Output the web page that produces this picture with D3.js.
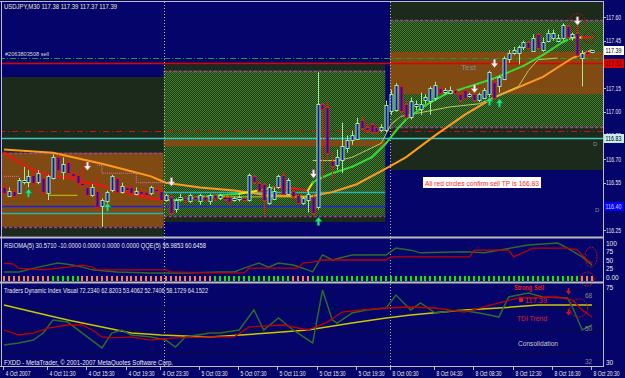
<!DOCTYPE html>
<html>
<head>
<meta charset="utf-8">
<script src="https://cdn.jsdelivr.net/npm/d3@7"></script>
<style>
body { margin: 0; background: #04046a; }
svg { display: block; font-family: 'Liberation Sans', Arial, sans-serif; }
</style>
</head>
<body>
<svg id="chart" width="625" height="378"></svg>
<script>
// USDJPY M30, 4 Oct 2007 - 8 Oct 2007
var opens = [116.52,116.47,116.50,116.49,116.56,116.55,116.60,116.55,116.58,116.48,116.58,116.71,116.62,116.68,116.61,116.60,116.55,116.52,116.47,116.50,
  116.40,116.43,116.50,116.58,116.49,116.52,116.52,116.48,116.50,116.49,116.48,116.51,116.50,116.44,116.46,116.38,116.45,116.45,116.43,116.46,
  116.43,116.46,116.43,116.47,116.45,116.46,116.46,116.44,116.45,116.45,116.44,116.59,116.55,116.54,116.42,116.45,116.52,116.60,116.48,116.50,
  116.47,116.42,116.44,116.46,116.40,117.05,117.03,116.69,116.66,116.69,116.77,116.82,116.83,116.95,116.90,116.92,116.90,116.88,116.88,117.00,
  117.01,117.16,117.05,116.97,117.04,117.02,117.07,117.07,117.09,117.15,117.13,117.12,117.14,117.11,117.14,117.10,117.11,117.07,117.09,117.11,
  117.19,117.16,117.21,117.33,117.37,117.37,117.41,117.44,117.39,117.49,117.39,117.45,117.47,117.45,117.47,117.54,117.47,117.50,117.34,117.38,117.38];
var highs = [116.54,116.52,116.52,116.58,116.65,116.63,116.62,116.63,116.59,116.60,116.73,116.73,116.71,116.69,116.62,116.61,116.68,116.54,116.54,116.60,
  116.45,116.50,116.60,116.59,116.55,116.54,116.53,116.52,116.51,116.50,116.53,116.52,116.52,116.48,116.48,116.45,116.48,116.47,116.48,116.47,
  116.48,116.47,116.48,116.48,116.48,116.47,116.47,116.46,116.47,116.46,116.61,116.60,116.56,116.55,116.54,116.52,116.60,116.62,116.58,116.52,
  116.48,116.46,116.50,116.47,117.25,117.06,117.07,116.74,116.76,116.93,116.85,116.88,116.96,116.97,116.93,116.93,116.91,116.92,117.07,117.14,
  117.18,117.17,117.07,117.09,117.07,117.12,117.11,117.16,117.19,117.16,117.15,117.16,117.15,117.12,117.15,117.12,117.12,117.12,117.15,117.26,
  117.21,117.23,117.35,117.39,117.41,117.42,117.45,117.45,117.49,117.50,117.47,117.52,117.52,117.49,117.56,117.55,117.50,117.56,117.39,117.39,117.39];
var lows = [116.47,116.46,116.45,116.48,116.54,116.52,116.53,116.54,116.47,116.44,116.57,116.57,116.57,116.59,116.57,116.52,116.52,116.46,116.46,116.36,
  116.27,116.41,116.49,116.48,116.48,116.48,116.47,116.47,116.47,116.46,116.47,116.48,116.43,116.43,116.34,116.36,116.43,116.42,116.42,116.43,
  116.41,116.43,116.41,116.43,116.44,116.43,116.41,116.43,116.43,116.43,116.43,116.54,116.49,116.35,116.41,116.44,116.51,116.47,116.47,116.44,
  116.41,116.41,116.36,116.34,116.38,116.57,116.69,116.57,116.63,116.61,116.74,116.79,116.82,116.88,116.86,116.86,116.86,116.87,116.87,116.98,
  117.00,116.98,116.95,116.95,117.01,116.98,117.05,116.98,117.07,117.11,117.11,117.11,117.11,117.06,117.08,117.09,117.06,117.06,117.08,117.09,
  117.08,117.12,117.20,117.31,117.36,117.30,117.39,117.39,117.38,117.39,117.38,117.44,117.45,117.44,117.45,117.45,117.45,117.35,117.16,117.35,117.37];
var closes = [116.48,116.50,116.47,116.57,116.57,116.59,116.55,116.61,116.49,116.59,116.71,116.63,116.67,116.61,116.59,116.55,116.54,116.47,116.52,116.40,
  116.44,116.49,116.59,116.49,116.53,116.50,116.48,116.50,116.48,116.47,116.52,116.50,116.44,116.47,116.36,116.44,116.46,116.44,116.47,116.45,
  116.47,116.44,116.47,116.45,116.47,116.45,116.43,116.45,116.46,116.44,116.60,116.55,116.50,116.44,116.52,116.50,116.59,116.48,116.57,116.47,
  116.42,116.45,116.48,116.36,117.05,117.02,116.74,116.66,116.71,116.78,116.82,116.85,116.93,116.90,116.88,116.87,116.87,116.90,117.04,117.11,
  117.17,117.00,116.97,117.07,117.05,117.05,117.09,117.15,117.17,117.12,117.14,117.14,117.12,117.07,117.09,117.11,117.07,117.11,117.14,117.25,
  117.09,117.22,117.34,117.37,117.39,117.41,117.44,117.40,117.47,117.40,117.44,117.50,117.50,117.47,117.55,117.47,117.49,117.36,117.37,117.37,117.39];

// time axis
var timeIdx = [0, 9, 17, 25, 32, 40, 48, 56, 64, 72, 79, 88, 96, 104, 112, 120];
var timeLabels = ['4 Oct 2007', '4 Oct 11:30', '4 Oct 15:30', '4 Oct 19:30', '4 Oct 23:30', '5 Oct 03:30', '5 Oct 07:30',
  '5 Oct 11:30', '5 Oct 15:30', '5 Oct 19:30', '8 Oct 00:30', '8 Oct 04:30', '8 Oct 08:30', '8 Oct 12:30', '8 Oct 16:30', '8 Oct 20:30'];
var daySeparators = [32.6, 78.8];
var priceTicks = [117.60, 117.45, 117.15, 117.00, 116.85, 116.70, 116.55, 116.25];

// moving averages [bar, price]
var slowMa = [[0,116.76],[10,116.74],[20,116.67],[25,116.63],[30,116.59],[33,116.55],[40,116.52],[47,116.50],[54,116.47],[62,116.46],
  [67,116.49],[72,116.54],[78,116.64],[82,116.71],[88,116.85],[94,116.98],[100,117.09],[110,117.22],[116,117.34],[120,117.39]];
var fastMa = [[0,116.74],[3,116.68],[6,116.63],[10,116.59],[14,116.58],[17,116.55],[20,116.53],[23,116.50],[27,116.47],[30,116.45],
  [33,116.44],[36,116.44],[40,116.46],[44,116.47],[48,116.48],[52,116.50],[55,116.52],[58,116.52],[62,116.50],[63,116.55],[64,116.57],
  [67,116.61],[71,116.65],[75,116.71],[78,116.80],[80,116.88],[82,116.95],[86,117.04],[90,117.11],[94,117.15],[100,117.21],[106,117.29],
  [110,117.36],[114,117.44],[116,117.47],[118,117.47],[120,117.47]];
var fastTrend = ['dn','dn','dn','dn','dn','dn','dn','dn','dn','dn','dn','up','up','up','up','flat','up','dn','dn','flat','up',
  'up','up','up','up','up','up','up','up','up','up','up','up','up','up','flat','dn'];
var trailStop = [[63,116.69],[68,116.69],[71,116.71],[73,116.74],[77,116.80],[79,116.92],[81,116.97],[91,117.03],[97,117.05],
  [105,117.16],[107,117.26],[109,117.33],[113,117.34]];
var flatStops = [[[9,116.47],[15,116.47]], [[40,116.46],[63,116.46]]];
var pinkStop = [[[0,116.59],[3,116.59]], [[19,116.66],[20,116.66],[20,116.61],[27,116.61],[27,116.55],[33,116.55]]];

// zones and levels drawn on the chart
var zones = [
  {from: -1, to: 32.6, top: 117.22, bottom: 116.19, kind: 'dark'},
  {from: -1, to: 32.6, top: 116.74, bottom: 116.27, kind: 'brown'},
  {from: 32.6, to: 77.8, top: 117.30, bottom: 116.30, kind: 'dark'},
  {from: 32.6, to: 77.8, top: 117.26, bottom: 116.34, kind: 'dots'},
  {from: 32.6, to: 77.8, top: 116.82, bottom: 116.78, kind: 'brown'},
  {from: 78.8, to: 125, top: 117.72, bottom: 116.63, kind: 'dark'},
  {from: 78.8, to: 125, top: 117.58, bottom: 116.90, kind: 'dots'},
  {from: 78.8, to: 125, top: 117.38, bottom: 117.11, kind: 'brown'}
];
var zoneEdges = [[-1,32.6,116.74],[-1,32.6,116.27],[32.6,77.8,117.26],[32.6,77.8,116.34],[78.8,125,117.58],[78.8,125,116.90]];
var levels = [
  {price: 117.34, from: -1, to: 125, kind: 'order'},
  {price: 117.31, from: -1, to: 125, kind: 'stop'},
  {price: 116.88, from: -1, to: 125, kind: 'redDash'},
  {price: 116.83, from: -1, to: 125, kind: 'tp'},
  {price: 116.40, from: -1, to: 77.8, kind: 'blue'},
  {price: 116.36, from: -1, to: 32.6, kind: 'teal'},
  {price: 116.49, from: 32.6, to: 77.8, kind: 'teal'}
];
var sellArrows = [[17,116.65],[34,116.55],[63,116.60],[96,117.14],[100,117.30],[117,117.57]];
var buyArrows = [[5,116.49],[21,116.40],[64,116.31],[99,117.07],[101,117.06]];

// RSIOMA / QQE panel
var rsiRed = [[0,41],[2,38],[3,26],[8,21],[13,29],[16,35],[18,29],[19,21],[33,21],[34,15],[42,12],[49,12],[50,26],[60,26],[61,41],
  [63,44],[65,50],[78,50],[79,59],[95,59],[96,79],[103,79],[104,59],[108,85],[115,85],[117,79],[119,50],[120,41]];
var rsiGreen = [[0,15],[3,15],[7,29],[11,41],[14,35],[16,29],[18,21],[23,15],[30,12],[37,12],[44,15],[47,15],[49,26],[52,41],[54,29],
  [56,41],[59,35],[61,26],[63,15],[65,65],[67,50],[71,65],[75,65],[78,65],[80,85],[83,79],[85,71],[94,74],[98,71],[101,79],[107,94],
  [113,100],[115,85],[118,59],[120,35]];
var qqeRuns = [[0,9,'dn'],[10,15,'up'],[16,42,'dn'],[43,58,'up'],[59,62,'dn'],[63,117,'up'],[118,120,'dn']];
var rsiTicks = [100, 75, 50, 25, 0];

// Traders Dynamic Index panel
var tdiYellow = [[0,70.5],[6,64.7],[13,58.2],[20,52.5],[26,47.5],[32,45.9],[42,44.3],[54,47.5],[62,50],[71,55.7],[78,59.8],[83,62.3],
  [94,66.4],[101,68.0],[109,70.5],[116,70.5],[120,70.5]];
var tdiRed = [[0,50],[3,45.9],[6,47.5],[9,51.6],[13,54.1],[16,54.1],[18,50],[20,44.3],[22,43.5],[26,44.3],[30,41.8],[35,43.5],[42,44.3],
  [47,44.3],[50,52.5],[57,54.1],[62,50],[66,56.5],[69,64.7],[73,66.4],[78,68.0],[83,68.8],[88,68.0],[94,64.7],[101,72.1],[105,76.2],
  [113,77.0],[116,74.5],[118,66.4],[120,60.6]];
var tdiGreen = [[0,37.7],[3,39.4],[6,41.8],[8,47.5],[10,58.2],[13,56.5],[17,44.3],[20,35.3],[22,47.5],[24,50],[26,45.9],[30,44.3],
  [33,41.8],[35,36.1],[37,44.3],[42,47.5],[44,47.5],[48,50],[51,66.4],[53,50],[56,59.8],[59,50],[63,39.4],[65,82.7],[67,58.2],[68,55.7],
  [71,63.9],[74,66.4],[78,68.0],[80,78.6],[83,66.4],[85,72.1],[88,63.9],[93,66.4],[97,63.9],[101,60.6],[103,77.0],[107,80.3],[110,77.0],
  [115,76.2],[116,68.8],[118,50],[120,54.1]];
var tdiLevels = [68, 50, 32];
var tdiArrows = [[115,81],[115,63.9]];

var svg = d3.select('#chart');
var x = d3.scaleLinear().domain([0, 120]).range([4, 592]);
var y = d3.scaleLinear().domain([116.25, 117.60]).range([230, 17]);
var yRsi = d3.scaleLinear().domain([0, 100]).range([277, 243]);
var yTdi = d3.scaleLinear().domain([32, 68]).range([352, 308]);

function px(i) { return Math.round(x(i)) + 0.5; }

drawChart();

function drawChart() {
  var defs = svg.append('defs');
  var pat = defs.append('pattern').attr('id', 'dots').attr('width', 2).attr('height', 2)
    .attr('patternUnits', 'userSpaceOnUse');
  pat.append('rect').attr('width', 2).attr('height', 2).attr('fill', '#1d3a18');
  pat.append('rect').attr('width', 1).attr('height', 1).attr('fill', '#437e2a');
  pat.append('rect').attr('x', 1).attr('y', 1).attr('width', 1).attr('height', 1).attr('fill', '#437e2a');

  function clip(id, x0, y0, w, h) {
    defs.append('clipPath').attr('id', id).append('rect')
      .attr('x', x0).attr('y', y0).attr('width', w).attr('height', h);
  }
  clip('cMain', 2, 2, 601, 234);
  clip('cRsi', 2, 239, 601, 42);
  clip('cTdi', 2, 284, 601, 82);

  svg.append('rect').attr('width', 625).attr('height', 378).attr('fill', '#04046a');

  // ---------- main price window
  var main = svg.append('g').attr('clip-path', 'url(#cMain)');
  var zoneFill = {dark: '#1b2a1b', brown: '#7f4b12', dots: 'url(#dots)'};
  main.selectAll('rect.zone').data(zones).enter().append('rect')
    .attr('x', d => x(d.from)).attr('width', d => x(d.to) - x(d.from))
    .attr('y', d => y(d.top)).attr('height', d => y(d.bottom) - y(d.top))
    .attr('fill', d => zoneFill[d.kind]);
  main.selectAll('line.edge').data(zoneEdges).enter().append('line')
    .attr('x1', d => x(d[0])).attr('x2', d => x(d[1]))
    .attr('y1', d => Math.round(y(d[2])) + 0.5).attr('y2', d => Math.round(y(d[2])) + 0.5)
    .attr('stroke', '#a040a0').attr('stroke-width', 1.5).attr('stroke-dasharray', '3,2');

  var levelStyle = {
    order: ['#2a9a2a', 1, '6,2,1,2'], stop: ['#e00000', 1.5, null], redDash: ['#d01010', 1, '6,3,1,3'],
    tp: ['#3cc8c0', 1.5, null], blue: ['#2222dd', 1.5, null], teal: ['#22b4b4', 1.5, null]
  };
  main.selectAll('line.level').data(levels).enter().append('line')
    .attr('x1', d => x(d.from)).attr('x2', d => x(d.to))
    .attr('y1', d => Math.round(y(d.price)) + 0.5).attr('y2', d => Math.round(y(d.price)) + 0.5)
    .attr('stroke', d => levelStyle[d.kind][0]).attr('stroke-width', d => levelStyle[d.kind][1])
    .attr('stroke-dasharray', d => levelStyle[d.kind][2]);

  // day separators through all windows
  svg.selectAll('line.sep').data(daySeparators).enter().append('line')
    .attr('x1', d => px(d)).attr('x2', d => px(d)).attr('y1', 2).attr('y2', 366)
    .attr('stroke', '#b8b87a').attr('stroke-width', 1).attr('stroke-dasharray', '1,2');

  var line = d3.line().x(d => x(d[0])).y(d => y(d[1]));
  main.append('path').attr('d', line(slowMa)).attr('fill', 'none')
    .attr('stroke', '#ff9a1e').attr('stroke-width', 2);
  main.append('path').attr('d', line(trailStop)).attr('fill', 'none')
    .attr('stroke', '#bccc5e').attr('stroke-width', 1);
  flatStops.forEach(function (s) {
    main.append('path').attr('d', line(s)).attr('fill', 'none')
      .attr('stroke', '#c8c800').attr('stroke-width', 1);
  });
  pinkStop.forEach(function (s) {
    main.append('path').attr('d', line(s)).attr('fill', 'none')
      .attr('stroke', '#e070b8').attr('stroke-width', 1).attr('stroke-dasharray', '1,1');
  });
  var trendColor = {dn: '#ee1515', up: '#33dd33', flat: '#e8e800'};
  for (var k = 1; k < fastMa.length; k++) {
    main.append('path').attr('d', line([fastMa[k - 1], fastMa[k]])).attr('fill', 'none')
      .attr('stroke', trendColor[fastTrend[k]]).attr('stroke-width', 2).attr('stroke-linecap', 'round');
  }

  // candles
  var bars = d3.range(opens.length).map(function (i) {
    return {i: i, o: opens[i], h: highs[i], l: lows[i], c: closes[i]};
  });
  var cg = main.selectAll('g.bar').data(bars).enter().append('g');
  cg.append('line')
    .attr('x1', d => px(d.i)).attr('x2', d => px(d.i))
    .attr('y1', d => y(d.h)).attr('y2', d => y(d.l))
    .attr('stroke', d => d.c >= d.o ? '#98f098' : '#e01818');
  cg.append('rect')
    .attr('x', d => px(d.i) - 1.5).attr('width', 3)
    .attr('y', d => Math.round(y(Math.max(d.o, d.c))) + 0.5)
    .attr('height', d => Math.max(1, Math.round(y(Math.min(d.o, d.c)) - y(Math.max(d.o, d.c)))))
    .attr('fill', '#1212b8')
    .attr('stroke', d => d.c >= d.o ? '#98f098' : '#e01818').attr('stroke-width', 1);

  // signal arrows
  function downArrow(g, cx, cy, fill) {
    g.append('path')
      .attr('d', 'M' + (cx - 1.2) + ',' + (cy - 5) + 'h2.4v4h2.4l-3.6,4.5l-3.6,-4.5h2.4z')
      .attr('fill', fill).attr('stroke', '#a06060').attr('stroke-width', 0.5);
  }
  function upArrow(g, cx, cy, fill) {
    g.append('path')
      .attr('d', 'M' + (cx - 1.2) + ',' + (cy + 5) + 'h2.4v-4h2.4l-3.6,-4.5l-3.6,4.5h2.4z')
      .attr('fill', fill).attr('stroke', '#0a8040').attr('stroke-width', 0.5);
  }
  sellArrows.forEach(d => downArrow(main, px(d[0]), y(d[1]), '#fff2f2'));
  buyArrows.forEach(d => upArrow(main, px(d[0]), y(d[1]), '#18e884'));

  // red circles
  main.append('circle').attr('cx', x(117)).attr('cy', y(117.57)).attr('r', 8)
    .attr('fill', 'none').attr('stroke', '#b01010').attr('stroke-dasharray', '2,1');
  main.append('circle').attr('cx', x(119.5)).attr('cy', y(117.47)).attr('r', 6)
    .attr('fill', 'none').attr('stroke', '#b01010').attr('stroke-dasharray', '2,1');

  // texts in main window
  svg.append('text').attr('x', 4).attr('y', 9).attr('fill', '#ece8c8').style('font-size', '7.5px')
    .attr('textLength', 113).attr('lengthAdjust', 'spacingAndGlyphs')
    .text('USDJPY,M30  117.38 117.39 117.37 117.39');
  svg.append('text').attr('x', 5).attr('y', 56).attr('fill', '#d8d8d8').style('font-size', '6px')
    .attr('textLength', 44).attr('lengthAdjust', 'spacingAndGlyphs').text('#2063803508 sell');
  main.append('text').attr('x', 461).attr('y', 70).attr('fill', '#8c8c8c').style('font-size', '7px')
    .attr('textLength', 15).attr('lengthAdjust', 'spacingAndGlyphs').text('Test');
  main.append('rect').attr('x', 423).attr('y', 177).attr('width', 118).attr('height', 11).attr('fill', '#ffffff');
  main.append('text').attr('x', 425).attr('y', 185.5).attr('fill', '#ff2a2a').style('font-size', '7.5px')
    .attr('textLength', 114).attr('lengthAdjust', 'spacingAndGlyphs')
    .text('All red circles confirm sell TP is 166.83');
  main.append('text').attr('x', 593).attr('y', 146).attr('fill', '#8a8a8a').style('font-size', '6px').text('D');
  main.append('text').attr('x', 595).attr('y', 212).attr('fill', '#8a8a8a').style('font-size', '6px').text('D');

  // price axis; the 116.85 label sits partly under the 116.83 marker, as in MetaTrader
  defs.append('clipPath').attr('id', 'cAxis').append('rect').attr('x', 603).attr('y', 0).attr('width', 22).attr('height', 134);
  defs.select('#cAxis').append('rect').attr('x', 603).attr('y', 143).attr('width', 22).attr('height', 95);
  var ax = svg.append('g');
  ax.selectAll('line.pt').data(priceTicks).enter().append('line')
    .attr('x1', 603).attr('x2', 606).attr('y1', d => Math.round(y(d)) + 0.5).attr('y2', d => Math.round(y(d)) + 0.5)
    .attr('stroke', '#c0c0c0');
  ax.append('g').attr('clip-path', 'url(#cAxis)')
    .selectAll('text.pt').data(priceTicks).enter().append('text')
    .attr('x', 606).attr('y', d => y(d) + 2.5).attr('fill', '#e8e8e8').style('font-size', '6.5px')
    .attr('textLength', 15).attr('lengthAdjust', 'spacingAndGlyphs')
    .text(d => d3.format('.2f')(d));
  var priceBoxes = [[117.39, '#ffffff', '#000000'], [117.31, '#e00000', '#400000'],
    [116.83, '#c8ecf4', '#000000'], [116.40, '#0000ff', '#d8d8ff']];
  priceBoxes.forEach(function (b) {
    ax.append('rect').attr('x', 604).attr('y', Math.round(y(b[0])) - 4).attr('width', 20).attr('height', 9).attr('fill', b[1]);
    ax.append('text').attr('x', 605.5).attr('y', Math.round(y(b[0])) + 3).attr('fill', b[2]).style('font-size', '6.5px')
      .attr('textLength', 16).attr('lengthAdjust', 'spacingAndGlyphs').text(d3.format('.2f')(b[0]));
  });

  // ---------- RSIOMA / QQE window
  var rsi = svg.append('g').attr('clip-path', 'url(#cRsi)');
  var rline = d3.line().x(d => x(d[0])).y(d => yRsi(d[1]));
  rsi.append('path').attr('d', rline(rsiGreen)).attr('fill', 'none').attr('stroke', '#2e6a2a').attr('stroke-width', 1.5);
  rsi.append('path').attr('d', rline(rsiRed)).attr('fill', 'none').attr('stroke', '#c00000').attr('stroke-width', 1.3);
  var marks = [];
  qqeRuns.forEach(function (r) { for (var i = r[0]; i <= r[1]; i++) marks.push({i: i, s: r[2]}); });
  rsi.selectAll('rect.q').data(marks).enter().append('rect')
    .attr('x', d => Math.round(x(d.i)) - 1).attr('y', 276).attr('width', 2).attr('height', 5)
    .attr('fill', d => d.s === 'up' ? '#00f000' : '#ff7a4a');
  svg.append('text').attr('x', 4).attr('y', 247.5).attr('fill', '#e8e8e8').style('font-size', '7px')
    .attr('textLength', 202).attr('lengthAdjust', 'spacingAndGlyphs')
    .text('RSIOMA(5) 30.5710 -10.0000 0.0000 0.0000 0.0000  QQE(5) 55.9853 60.6458');
  svg.selectAll('text.rt').data(rsiTicks).enter().append('text')
    .attr('x', 606).attr('y', d => yRsi(d) + 2.5).attr('fill', '#e8e8e8').style('font-size', '6.5px')
    .text(d => d === 0 ? '0.00' : d);
  svg.append('ellipse').attr('cx', x(119.8)).attr('cy', yRsi(59)).attr('rx', 6).attr('ry', 10)
    .attr('fill', 'none').attr('stroke', '#c01010').attr('stroke-dasharray', '2,1');
  svg.append('circle').attr('cx', x(119)).attr('cy', 279).attr('r', 7)
    .attr('fill', 'none').attr('stroke', '#c01010').attr('stroke-dasharray', '2,1');

  // ---------- TDI window
  var tdi = svg.append('g').attr('clip-path', 'url(#cTdi)');
  tdi.selectAll('line.tl').data(tdiLevels).enter().append('line')
    .attr('x1', 2).attr('x2', 603).attr('y1', d => Math.round(yTdi(d)) + 0.5).attr('y2', d => Math.round(yTdi(d)) + 0.5)
    .attr('stroke', '#0c140c').attr('stroke-dasharray', '3,3');
  var tline = d3.line().x(d => x(d[0])).y(d => yTdi(d[1]));
  tdi.append('path').attr('d', tline(tdiYellow)).attr('fill', 'none').attr('stroke', '#c8c800').attr('stroke-width', 1.5);
  tdi.append('path').attr('d', tline(tdiGreen)).attr('fill', 'none').attr('stroke', '#2e6a2a').attr('stroke-width', 1.5);
  tdi.append('path').attr('d', tline(tdiRed)).attr('fill', 'none').attr('stroke', '#c00000').attr('stroke-width', 1.3);
  tdiArrows.forEach(d => {
    tdi.append('path')
      .attr('d', 'M' + (px(d[0]) - 0.8) + ',' + (yTdi(d[1]) - 4) + 'h1.6v3h1.8l-2.6,3.5l-2.6,-3.5h1.8z')
      .attr('fill', '#e01010');
  });
  tdi.append('circle').attr('cx', x(117.3)).attr('cy', yTdi(68)).attr('r', 9)
    .attr('fill', 'none').attr('stroke', '#c01010').attr('stroke-dasharray', '2,1');
  tdi.selectAll('text.lv').data(tdiLevels).enter().append('text')
    .attr('x', 585).attr('y', (d, i) => [298, 331, 364][i]).attr('fill', '#8a8a8a').style('font-size', '6.5px').text(d => d);
  tdi.append('text').attr('x', 514).attr('y', 289.5).attr('fill', '#e02020').style('font-size', '7px').style('font-weight', 'bold')
    .attr('textLength', 30).attr('lengthAdjust', 'spacingAndGlyphs').text('Strong Sell');
  tdi.append('circle').attr('cx', 521).attr('cy', 300).attr('r', 2.2).attr('fill', '#e02020');
  tdi.append('text').attr('x', 525).attr('y', 302.5).attr('fill', '#e02020').style('font-size', '7px')
    .attr('textLength', 22).attr('lengthAdjust', 'spacingAndGlyphs').text('117.39');
  tdi.append('text').attr('x', 517).attr('y', 320.5).attr('fill', '#e02020').style('font-size', '7px')
    .attr('textLength', 30).attr('lengthAdjust', 'spacingAndGlyphs').text('TDI Trend');
  tdi.append('text').attr('x', 518).attr('y', 345.5).attr('fill', '#c8c8c8').style('font-size', '7px')
    .attr('textLength', 40).attr('lengthAdjust', 'spacingAndGlyphs').text('Consolidation');
  svg.append('text').attr('x', 4).attr('y', 292.5).attr('fill', '#e8e8e8').style('font-size', '7px')
    .attr('textLength', 204).attr('lengthAdjust', 'spacingAndGlyphs')
    .text('Traders Dynamic Index Visual 72.2340 62.8203 53.4062 52.7406 58.1729 64.1522');
  svg.append('text').attr('x', 4).attr('y', 364.5).attr('fill', '#e8e8e8').style('font-size', '7px')
    .attr('textLength', 169).attr('lengthAdjust', 'spacingAndGlyphs')
    .text('FXDD - MetaTrader, \u00a9 2001-2007 MetaQuotes Software Corp.');
  svg.append('text').attr('x', 606).attr('y', 290).attr('fill', '#e8e8e8').style('font-size', '6.5px').text('75');
  svg.append('text').attr('x', 606).attr('y', 365).attr('fill', '#e8e8e8').style('font-size', '6.5px').text('30');

  // ---------- frame
  var frame = svg.append('g').attr('stroke', '#bcbcbc').attr('fill', 'none');
  frame.append('line').attr('x1', 0).attr('x2', 604).attr('y1', 1.5).attr('y2', 1.5);
  frame.append('line').attr('x1', 1.5).attr('x2', 1.5).attr('y1', 1).attr('y2', 367);
  frame.append('line').attr('x1', 603.5).attr('x2', 603.5).attr('y1', 1).attr('y2', 367);
  frame.append('line').attr('x1', 0).attr('x2', 604).attr('y1', 237.5).attr('y2', 237.5).attr('stroke-width', 2);
  frame.append('line').attr('x1', 0).attr('x2', 604).attr('y1', 282.5).attr('y2', 282.5).attr('stroke-width', 2);
  frame.append('line').attr('x1', 0).attr('x2', 604).attr('y1', 366.5).attr('y2', 366.5);

  // time axis
  svg.selectAll('line.tt').data(timeIdx).enter().append('line')
    .attr('x1', d => px(d) - 1).attr('x2', d => px(d) - 1).attr('y1', 367).attr('y2', 370)
    .attr('stroke', '#bcbcbc');
  svg.selectAll('text.tt').data(timeIdx).enter().append('text')
    .attr('x', d => Math.min(px(d) + 1, 596)).attr('y', 376).attr('fill', '#e8e8e8').style('font-size', '6.5px')
    .attr('textLength', (d, i) => i === 0 ? 25 : 26).attr('lengthAdjust', 'spacingAndGlyphs')
    .text((d, i) => timeLabels[i]);
}
</script>
</body>
</html>
